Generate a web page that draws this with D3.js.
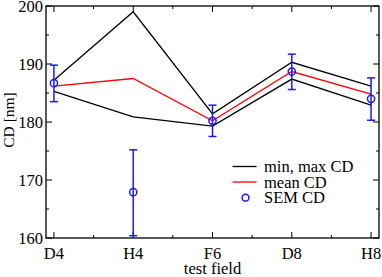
<!DOCTYPE html>
<html>
<head>
<meta charset="utf-8">
<script src="https://cdn.jsdelivr.net/npm/d3@7"></script>
<style>
  body { margin: 0; background: #fff; }
  text { font-family: "Liberation Serif", "Times New Roman", serif; fill: #000; }
</style>
</head>
<body>
<svg id="chart" width="382" height="277"></svg>
<script>
// chart data
const fields = ['D4', 'H4', 'F6', 'D8', 'H8'];
const minCD = [185.3, 180.9, 179.3, 187.4, 182.9];
const maxCD = [187.2, 199.0, 181.4, 190.3, 186.2];
const meanCD = [186.2, 187.5, 180.2, 188.7, 184.8];
const semCD = [186.7, 167.9, 180.2, 188.7, 184.0];
const semLo = [183.5, 160.4, 177.5, 185.6, 180.3];
const semHi = [189.8, 175.2, 182.9, 191.7, 187.6];
const yTicks = [160, 170, 180, 190, 200];
const legendLabels = ['min, max CD', 'mean CD', 'SEM CD'];

const svg = d3.select('#chart');
const pl = 46, pr = 379, pt = 6, pb = 238;
const fs = 16.5;

const x = d3.scaleLinear().domain([-0.1, 4.1]).range([pl, pr]);
const y = d3.scaleLinear().domain([160, 200]).range([pb, pt]);

const blue = '#1a1aff';

// frame
svg.append('rect')
    .attr('x', pl).attr('y', pt)
    .attr('width', pr - pl).attr('height', pb - pt)
    .attr('fill', 'none').attr('stroke', '#000').attr('stroke-width', 1.3);

// ticks, inward on all four sides
const tickG = svg.append('g').attr('stroke', '#000').attr('stroke-width', 1);
const majX = d3.range(fields.length);
const minX = d3.range(fields.length - 1).map(i => i + 0.5);
majX.forEach(v => {
  tickG.append('line').attr('x1', x(v)).attr('x2', x(v)).attr('y1', pb).attr('y2', pb - 6);
  tickG.append('line').attr('x1', x(v)).attr('x2', x(v)).attr('y1', pt).attr('y2', pt + 6);
});
minX.forEach(v => {
  tickG.append('line').attr('x1', x(v)).attr('x2', x(v)).attr('y1', pb).attr('y2', pb - 3);
  tickG.append('line').attr('x1', x(v)).attr('x2', x(v)).attr('y1', pt).attr('y2', pt + 3);
});
yTicks.forEach(v => {
  tickG.append('line').attr('x1', pl).attr('x2', pl + 6).attr('y1', y(v)).attr('y2', y(v));
  tickG.append('line').attr('x1', pr).attr('x2', pr - 6).attr('y1', y(v)).attr('y2', y(v));
});
d3.range(165, 200, 10).forEach(v => {
  tickG.append('line').attr('x1', pl).attr('x2', pl + 3).attr('y1', y(v)).attr('y2', y(v));
  tickG.append('line').attr('x1', pr).attr('x2', pr - 3).attr('y1', y(v)).attr('y2', y(v));
});

// tick labels
svg.selectAll('text.ylab').data(yTicks).enter().append('text')
    .attr('class', 'ylab')
    .attr('x', pl - 3).attr('y', d => y(d) + 5.5)
    .attr('text-anchor', 'end')
    .attr('font-size', fs)
    .text(d => d);

svg.selectAll('text.xlab').data(fields).enter().append('text')
    .attr('class', 'xlab')
    .attr('x', (d, i) => x(i)).attr('y', 258.5)
    .attr('text-anchor', 'middle')
    .attr('font-size', fs)
    .text(d => d);

// axis titles
svg.append('text')
    .attr('x', (pl + pr) / 2).attr('y', 273.5)
    .attr('text-anchor', 'middle')
    .attr('font-size', fs)
    .text('test field');

svg.append('text')
    .attr('transform', `translate(14, 120) rotate(-90)`)
    .attr('text-anchor', 'middle')
    .attr('font-size', 15.5)
    .text('CD [nm]');

// lines
const line = d3.line().x((d, i) => x(i)).y(d => y(d));
[[minCD, '#000'], [maxCD, '#000'], [meanCD, '#ff0000']].forEach(([vals, col]) => {
  svg.append('path')
      .attr('d', line(vals))
      .attr('fill', 'none')
      .attr('stroke', col)
      .attr('stroke-width', 1.3);
});

// SEM error bars + circles
const eb = svg.append('g').attr('stroke', blue).attr('stroke-width', 1.5).attr('fill', 'none');
fields.forEach((f, i) => {
  eb.append('line').attr('x1', x(i)).attr('x2', x(i)).attr('y1', y(semLo[i])).attr('y2', y(semHi[i]));
  eb.append('line').attr('x1', x(i) - 4).attr('x2', x(i) + 4).attr('y1', y(semLo[i])).attr('y2', y(semLo[i]));
  eb.append('line').attr('x1', x(i) - 4).attr('x2', x(i) + 4).attr('y1', y(semHi[i])).attr('y2', y(semHi[i]));
  eb.append('circle').attr('cx', x(i)).attr('cy', y(semCD[i])).attr('r', 3.6);
});

// legend
const lg = svg.append('g');
const legY = [166.5, 182, 197.7];
lg.append('line').attr('x1', 232.5).attr('x2', 256.5).attr('y1', legY[0]).attr('y2', legY[0])
    .attr('stroke', '#000').attr('stroke-width', 1.3);
lg.append('line').attr('x1', 232.5).attr('x2', 256.5).attr('y1', legY[1]).attr('y2', legY[1])
    .attr('stroke', '#ff0000').attr('stroke-width', 1.3);
lg.append('circle').attr('cx', 245.5).attr('cy', legY[2]).attr('r', 3.4)
    .attr('fill', 'none').attr('stroke', blue).attr('stroke-width', 1.5);
legendLabels.forEach((t, i) => {
  lg.append('text')
      .attr('x', 264).attr('y', legY[i] + 5.5)
      .attr('font-size', fs)
      .text(t);
});
</script>
</body>
</html>
